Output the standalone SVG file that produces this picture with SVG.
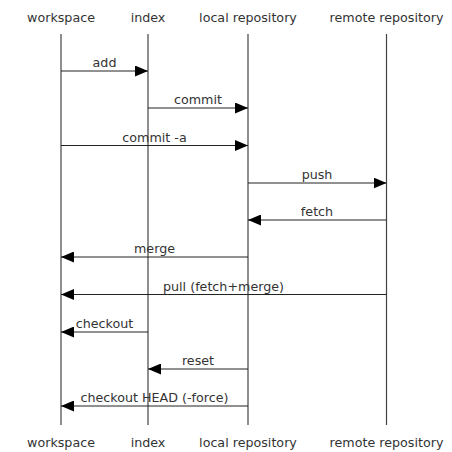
<svg xmlns="http://www.w3.org/2000/svg" width="452" height="452" viewBox="0 0 452 452">
<style>
text{font-family:"DejaVu Sans",sans-serif;font-size:12.7px;fill:#333;text-anchor:middle}
.life{stroke:#444;stroke-width:1.2;fill:none}
.msg{stroke:#222;stroke-width:1;fill:none}
</style>
<defs>
<marker id="ah" markerWidth="13" markerHeight="11" refX="13" refY="5.5" orient="auto" markerUnits="userSpaceOnUse">
<path d="M0,0 L13,5.5 L0,11 Z" fill="#000"/>
</marker>
</defs>
<rect width="452" height="452" fill="#fff"/>
<g id="workspace"><text x="61" y="22">workspace</text><line class="life" x1="61" y1="34" x2="61" y2="425"/><text x="61" y="447">workspace</text></g>
<g id="index"><text x="148" y="22">index</text><line class="life" x1="148" y1="34" x2="148" y2="425"/><text x="148" y="447">index</text></g>
<g id="local"><text x="248" y="22">local repository</text><line class="life" x1="248" y1="34" x2="248" y2="425"/><text x="248" y="447">local repository</text></g>
<g id="remote"><text x="386.5" y="22">remote repository</text><line class="life" x1="386.5" y1="34" x2="386.5" y2="425"/><text x="386.5" y="447">remote repository</text></g>
<g id="connectors">
<line class="msg" x1="61" y1="71" x2="148" y2="71" marker-end="url(#ah)"/><text x="104.5" y="67">add</text>
<line class="msg" x1="148" y1="108" x2="248" y2="108" marker-end="url(#ah)"/><text x="198" y="104">commit</text>
<line class="msg" x1="61" y1="145.5" x2="248" y2="145.5" marker-end="url(#ah)"/><text x="154.5" y="141.5">commit -a</text>
<line class="msg" x1="248" y1="183" x2="386.5" y2="183" marker-end="url(#ah)"/><text x="317" y="179">push</text>
<line class="msg" x1="386.5" y1="220" x2="248" y2="220" marker-end="url(#ah)"/><text x="317" y="216">fetch</text>
<line class="msg" x1="248" y1="257" x2="61" y2="257" marker-end="url(#ah)"/><text x="154.5" y="253">merge</text>
<line class="msg" x1="386.5" y1="294.5" x2="61" y2="294.5" marker-end="url(#ah)"/><text x="223.5" y="290.5">pull (fetch+merge)</text>
<line class="msg" x1="148" y1="332" x2="61" y2="332" marker-end="url(#ah)"/><text x="104.5" y="328">checkout</text>
<line class="msg" x1="248" y1="369" x2="148" y2="369" marker-end="url(#ah)"/><text x="198" y="365">reset</text>
<line class="msg" x1="248" y1="406" x2="61" y2="406" marker-end="url(#ah)"/><text x="154.5" y="402">checkout HEAD (-force)</text>
</g>
</svg>
